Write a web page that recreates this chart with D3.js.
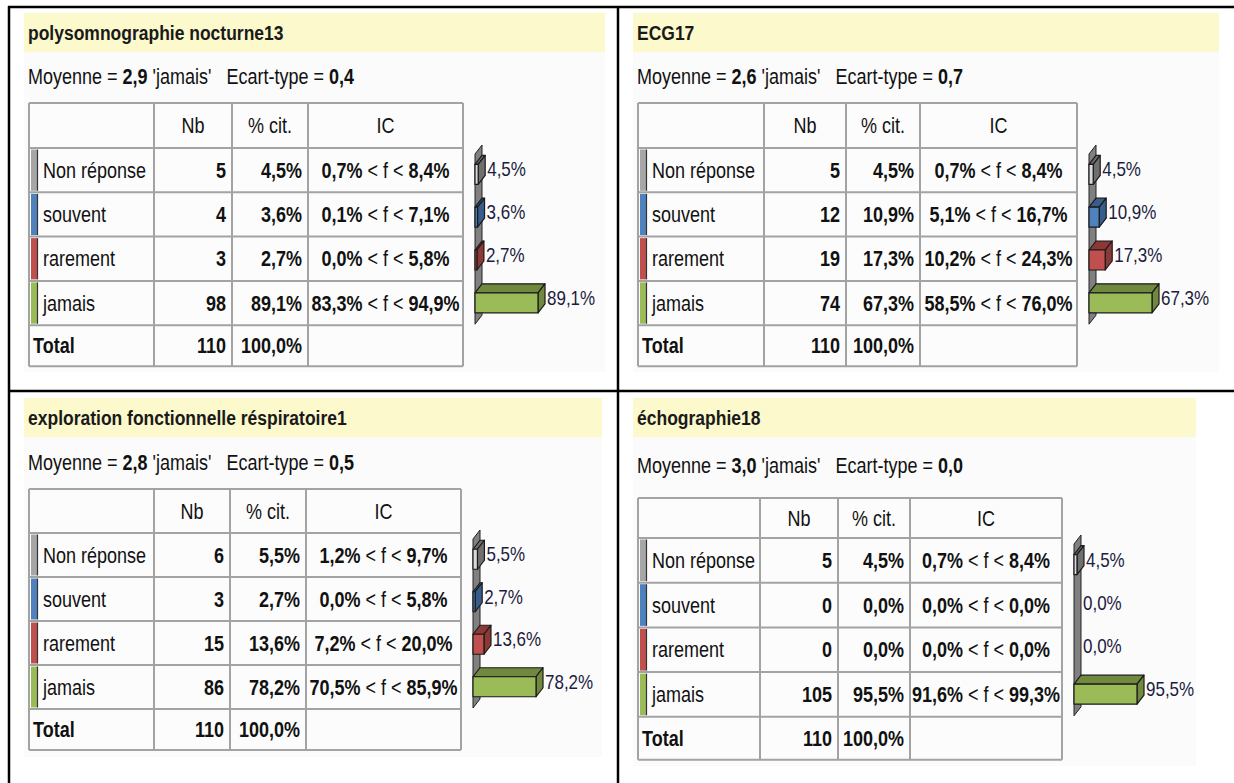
<!DOCTYPE html>
<html>
<head>
<meta charset="utf-8">
<script src="https://cdn.jsdelivr.net/npm/d3@7"></script>
<style>
	body { margin:0; background:#fff; }
	svg { display:block; }
	text { white-space:pre; }
</style>
</head>
<body>
<div id="chart"></div>
<script>

// DATA

var categories = ["Non réponse", "souvent", "rarement", "jamais"];
var titles = ["polysomnographie nocturne13", "ECG17", "exploration fonctionnelle réspiratoire1", "échographie18"];
var moyennes = [2.9, 2.6, 2.8, 3.0];
var ecarts = [0.4, 0.7, 0.5, 0.0];
var counts = [[5, 4, 3, 98], [5, 12, 19, 74], [6, 3, 15, 86], [5, 0, 0, 105]];
var percents = [[4.5, 3.6, 2.7, 89.1], [4.5, 10.9, 17.3, 67.3], [5.5, 2.7, 13.6, 78.2], [4.5, 0.0, 0.0, 95.5]];
var icLow = [[0.7, 0.1, 0.0, 83.3], [0.7, 5.1, 10.2, 58.5], [1.2, 0.0, 7.2, 70.5], [0.7, 0.0, 0.0, 91.6]];
var icHigh = [[8.4, 7.1, 5.8, 94.9], [8.4, 16.7, 24.3, 76.0], [9.7, 5.8, 20.0, 85.9], [8.4, 0.0, 0.0, 99.3]];
var totals = [110, 110, 110, 110];
var headers = ["Nb", "% cit.", "IC"];

// Drawing parameters
var width = 1234, height = 783;
var catColors = ["#a6a6a6", "#4f81bd", "#c0504d", "#9bbb59"];
var catDark = ["#6f6f6f", "#385d8a", "#8c3836", "#71893f"];
var textColor = "#111";
var labelColor = "#1c1c40";
var gridColor = "#a3a3a3";
var fontFamily = "'Liberation Sans', Arial, sans-serif";
var stretch = 1.2; // text looks vertically stretched in the reference

var panels = [
	{hx:24, hy:13, hw:581, bodyH:320, subY:76, tx:29, ty:103, cols:[125, 78, 76, 155], headH:45, rowH:44.3, totH:41},
	{hx:633, hy:13, hw:586, bodyH:320, subY:76, tx:638, ty:103, cols:[126, 82, 74, 157], headH:45, rowH:44.3, totH:41},
	{hx:24, hy:398, hw:578, bodyH:320, subY:462, tx:29, ty:489, cols:[125, 76, 76, 155], headH:44, rowH:44, totH:41},
	{hx:633, hy:398, hw:563, bodyH:329, subY:465, tx:638, ty:498, cols:[122, 78, 72, 152], headH:40, rowH:44.7, totH:43}
];

var barMax = 63;     // length of the longest bar
var depthX = 7, depthY = 9;
var frontH = 20;

function fmt(v) { return d3.format(".1f")(v).replace(".", ","); }
function pct(v) { return fmt(v) + "%"; }

var svg = d3.select("#chart").append("svg")
	.attr("width", width).attr("height", height)
	.style("font-family", fontFamily);

svg.append("rect").attr("width", width).attr("height", height).attr("fill", "#fff");

// text helper: anchor point + vertical stretch
function addText(g, x, y, str, anchor, weight, size, color) {
	return g.append("text")
		.attr("transform", "translate(" + x + "," + y + ") scale(1," + stretch + ")")
		.attr("text-anchor", anchor || "start")
		.attr("dominant-baseline", "central")
		.style("font-size", (size || 18) + "px")
		.style("font-weight", weight || "normal")
		.attr("fill", color || textColor)
		.text(str);
}

function drawPanel(i) {
	var p = panels[i];
	var g = svg.append("g");

	// header + body
	g.append("rect").attr("x", p.hx).attr("y", p.hy + 39).attr("width", p.hw).attr("height", p.bodyH).attr("fill", "#fbfbfb");
	g.append("rect").attr("x", p.hx).attr("y", p.hy).attr("width", p.hw).attr("height", 39).attr("fill", "#fcf9cc");

	addText(g, p.hx + 4, p.hy + 20, titles[i], "start", "bold", 17.5, "#1a1a1a");

	var sub = addText(g, p.hx + 4, p.subY, "", "start", "normal", 18);
	sub.append("tspan").text("Moyenne = ");
	sub.append("tspan").style("font-weight", "bold").text(fmt(moyennes[i]));
	sub.append("tspan").text(" 'jamais'   Ecart-type = ");
	sub.append("tspan").style("font-weight", "bold").text(fmt(ecarts[i]));

	// TABLE
	var colX = [p.tx];
	p.cols.forEach(function(w) { colX.push(colX[colX.length - 1] + w); });
	var rowsTop = p.ty + p.headH;
	var rowY = d3.range(5).map(function(k) { return rowsTop + k * p.rowH; });
	var tableBottom = rowY[4] + p.totH;

	g.append("rect").attr("x", p.tx).attr("y", p.ty)
		.attr("width", colX[4] - p.tx).attr("height", tableBottom - p.ty)
		.attr("fill", "#fcfcfc");

	// colour stripes
	categories.forEach(function(c, k) {
		g.append("rect").attr("x", p.tx + 2).attr("y", rowY[k] + 1.5)
			.attr("width", 6).attr("height", p.rowH - 3).attr("fill", catColors[k]);
		g.append("line").attr("x1", p.tx + 8.5).attr("x2", p.tx + 8.5)
			.attr("y1", rowY[k] + 1.5).attr("y2", rowY[k] + p.rowH - 1.5)
			.attr("stroke", "#333").attr("stroke-width", 1.2);
	});

	// grid
	[p.ty].concat(rowY).concat([tableBottom]).forEach(function(y) {
		g.append("line").attr("x1", p.tx).attr("x2", colX[4]).attr("y1", y).attr("y2", y)
			.attr("stroke", gridColor).attr("stroke-width", 2);
	});
	colX.forEach(function(x, k) {
		g.append("line").attr("x1", x).attr("x2", x).attr("y1", p.ty).attr("y2", tableBottom)
			.attr("stroke", gridColor).attr("stroke-width", 2);
	});

	// header texts
	var headY = p.ty + p.headH / 2;
	headers.forEach(function(h, k) {
		addText(g, (colX[k + 1] + colX[k + 2]) / 2, headY, h, "middle");
	});

	// rows
	categories.forEach(function(c, k) {
		var cy = rowY[k] + p.rowH / 2;
		addText(g, p.tx + 14, cy, c, "start");
		addText(g, colX[2] - 6, cy, counts[i][k], "end", "bold");
		addText(g, colX[3] - 6, cy, pct(percents[i][k]), "end", "bold");
		var ic = addText(g, (colX[3] + colX[4]) / 2, cy, "", "middle");
		ic.append("tspan").style("font-weight", "bold").text(pct(icLow[i][k]));
		ic.append("tspan").text(" < f < ");
		ic.append("tspan").style("font-weight", "bold").text(pct(icHigh[i][k]));
	});

	var ty = rowY[4] + p.totH / 2;
	addText(g, p.tx + 4, ty, "Total", "start", "bold");
	addText(g, colX[2] - 6, ty, totals[i], "end", "bold");
	addText(g, colX[3] - 6, ty, pct(100), "end", "bold");

	// 3D BAR CHART
	var x0 = colX[4] + 12;
	var xScale = d3.scaleLinear().domain([0, d3.max(percents[i])]).range([0, barMax]);
	var yScale = d3.scaleBand().domain(categories).range([rowsTop, rowsTop + 4 * p.rowH - 6]);

	var yTop = rowsTop - 3, yBot = rowsTop + 4 * p.rowH - 1;
	g.append("polygon")
		.attr("points", [[x0, yTop + depthY], [x0 + depthX, yTop], [x0 + depthX, yBot - depthY], [x0, yBot]].join(" "))
		.attr("fill", "#808080").attr("stroke", "#222").attr("stroke-width", 1);

	categories.forEach(function(c, k) {
		var v = percents[i][k];
		var w = xScale(v);
		var cy = yScale(c) + yScale.bandwidth() / 2;
		var fy = cy - 5;
		if (w > 0.5) {
			var bar = g.append("g").attr("stroke", "#1a1a1a").attr("stroke-width", 1.2).attr("stroke-linejoin", "round");
			bar.append("polygon")
				.attr("points", [[x0, fy], [x0 + depthX, fy - depthY], [x0 + w + depthX, fy - depthY], [x0 + w, fy]].join(" "))
				.attr("fill", catDark[k]);
			bar.append("polygon")
				.attr("points", [[x0 + w, fy], [x0 + w + depthX, fy - depthY], [x0 + w + depthX, fy + frontH - depthY], [x0 + w, fy + frontH]].join(" "))
				.attr("fill", catDark[k]);
			bar.append("rect").attr("x", x0).attr("y", fy).attr("width", w).attr("height", frontH)
				.attr("fill", k === 0 ? "#d9d9d9" : catColors[k]);
		}
		addText(g, x0 + w + depthX + 2, cy, pct(v), "start", "normal", 17, labelColor);
	});
}

d3.range(4).forEach(drawPanel);

// outer frame lines
var frame = svg.append("g").attr("stroke", "#000").attr("stroke-width", 2.5);
frame.append("line").attr("x1", 8).attr("x2", width).attr("y1", 7).attr("y2", 7);
frame.append("line").attr("x1", 8).attr("x2", width).attr("y1", 391).attr("y2", 391);
frame.append("line").attr("x1", 9).attr("x2", 9).attr("y1", 6).attr("y2", height);
frame.append("line").attr("x1", 618).attr("x2", 618).attr("y1", 6).attr("y2", height);

</script>
</body>
</html>
